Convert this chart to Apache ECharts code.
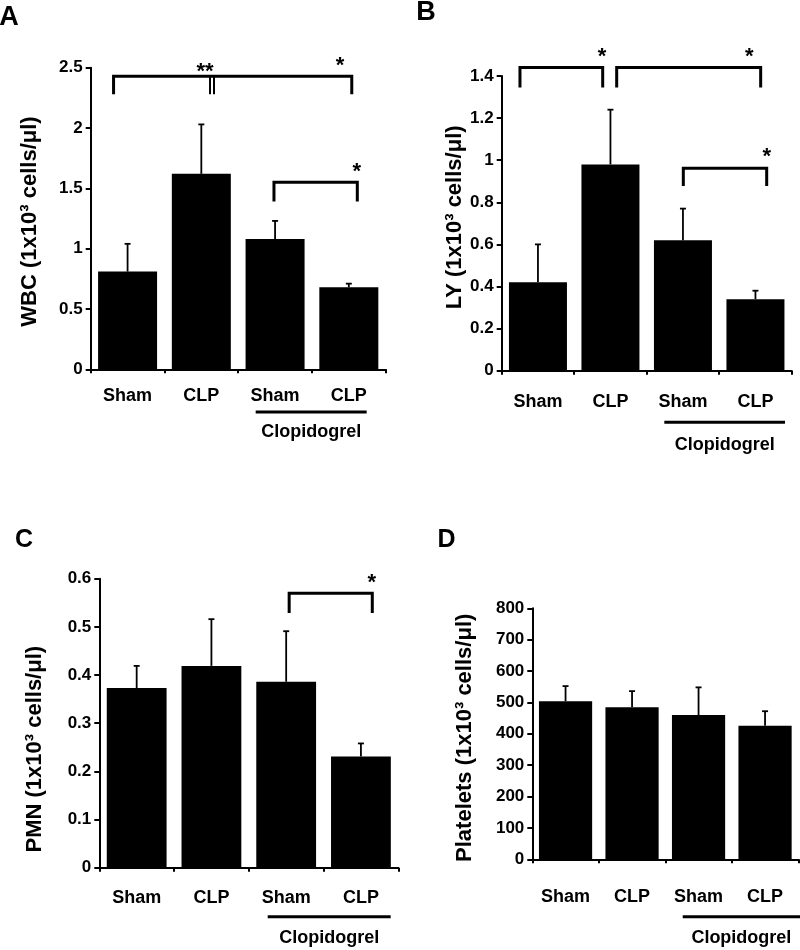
<!DOCTYPE html>
<html>
<head>
<meta charset="utf-8">
<script src="https://cdn.jsdelivr.net/npm/echarts@6/dist/echarts.min.js"></script>
<style>
html,body{margin:0;padding:0;background:#fff;}
#chart{width:800px;height:950px;}
</style>
</head>
<body>
<div id="chart"></div>
<script>
// ---------- data ----------
const categories = ['Sham', 'CLP', 'Sham', 'CLP'];
const groupLabel = 'Clopidogrel';

const wbcMean = [0.81, 1.62, 1.08, 0.68];
const wbcErr  = [0.23, 0.41, 0.15, 0.03];
const lyMean  = [0.42, 0.98, 0.62, 0.34];
const lyErr   = [0.18, 0.26, 0.15, 0.04];
const pmnMean = [0.373, 0.419, 0.386, 0.231];
const pmnErr  = [0.046, 0.097, 0.105, 0.027];
const pltMean = [504, 485, 460, 426];
const pltErr  = [48, 51, 88, 46];

const yTitles = ['WBC (1x10³ cells/μl)', 'LY (1x10³ cells/μl)', 'PMN (1x10³ cells/μl)', 'Platelets (1x10³ cells/μl)'];
const panelLetters = ['A', 'B', 'C', 'D'];
const yMax = [2.5, 1.4, 0.6, 800];
const yStep = [0.5, 0.2, 0.1, 100];

// significance brackets: [xStart, xEnd, yLine, yLegEnd] in data space (x = category index)
const bracketsA = [[-0.19, 3.04, 2.43, 2.28], [1.985, 3.115, 1.55, 1.39]];
const bracketsB = [[-0.248, 0.893, 1.44, 1.345], [1.086, 3.072, 1.44, 1.345], [2.005, 3.155, 0.962, 0.877]];
const bracketsC = [[2.04, 3.152, 0.570, 0.529]];
const bracketsD = [];
// vertical connector lines: [x, yTop, yBottom]
const vlinesA = [[1.118, 2.43, 2.28], [1.172, 2.43, 2.28]];
// star labels
const starTextA = ['**', '*', '*'];
const starPosA = [[1.05, 2.51], [2.88, 2.56], [3.107, 1.678]];
const starTextB = ['*', '*', '*'];
const starPosB = [[0.883, 1.515], [2.915, 1.515], [3.155, 1.04]];
const starTextC = ['*'];
const starPosC = [[3.144, 0.601]];
// clopidogrel group extent in category units
const groupSpan = [[1.737, 3.242], [1.743, 3.408], [1.753, 3.398], [1.762, 3.526]];

// ---------- layout ----------
const FONT = '"Liberation Sans", Arial, sans-serif';
const grids = [
  {left: 90.7, top: 67.7, width: 295, height: 301.6},
  {left: 501.7, top: 76, width: 290, height: 294.7},
  {left: 99.3, top: 578.7, width: 299, height: 289},
  {left: 532.3, top: 608.3, width: 266, height: 251}
];
const labelMargin = [18, 22, 21, 29];
const nameGap = [50, 35, 53, 56];
const namePad = [[0, 6, 0, 0], [0, 0, 0, 12], [0, 52, 0, 0], [0, 8, 0, 0]];
const underlineOff = [42.7, 51.6, 49, 57.4];
const groupTextOff = [63, 74.3, 70.6, 79];
const letterPos = [[9, 18, 27], [426, 12.5, 27], [24, 540, 25], [446.5, 540, 25]];

const means = [wbcMean, lyMean, pmnMean, pltMean];
const errs = [wbcErr, lyErr, pmnErr, pltErr];
const brackets = [bracketsA, bracketsB, bracketsC, bracketsD];
const vlines = [vlinesA, [], [], []];
const starTexts = [starTextA, starTextB, starTextC, []];
const starPos = [starPosA, starPosB, starPosC, []];

const option = {
  animation: false,
  backgroundColor: '#fff',
  grid: grids.map(g => Object.assign({}, g)),
  xAxis: [],
  yAxis: [],
  series: [],
  graphic: letterPos.map((p, i) => ({
    type: 'text', x: p[0], y: p[1],
    style: {text: panelLetters[i], font: 'bold ' + p[2] + 'px ' + FONT, fill: '#000', align: 'center', verticalAlign: 'middle'}
  }))
};

for (let k = 0; k < 4; k++) {
  option.xAxis.push({
    type: 'category', gridIndex: k, data: categories, boundaryGap: true,
    axisLine: {show: true, onZero: false, lineStyle: {color: '#000', width: 2}},
    axisTick: {show: true, length: 4, interval: 0, lineStyle: {color: '#000', width: 2}},
    axisLabel: {interval: 0, margin: labelMargin[k], color: '#000', fontSize: 18, fontWeight: 'bold', fontFamily: FONT},
    splitLine: {show: false}
  });
  option.xAxis.push({
    type: 'value', gridIndex: k, min: -0.5, max: 3.5, show: false,
    axisLine: {onZero: false}
  });
  option.yAxis.push({
    type: 'value', gridIndex: k, min: 0, max: yMax[k], interval: yStep[k],
    name: yTitles[k], nameLocation: 'middle', nameGap: nameGap[k],
    nameTextStyle: {color: '#000', fontSize: 22, fontWeight: 'bold', fontFamily: FONT, padding: namePad[k]},
    axisLine: {show: true, onZero: false, lineStyle: {color: '#000', width: 2}},
    axisTick: {show: true, length: 5, lineStyle: {color: '#000', width: 2}},
    axisLabel: {margin: 8, color: '#000', fontSize: 17, fontWeight: 'bold', fontFamily: FONT},
    splitLine: {show: false}
  });

  const xi = 2 * k, vxi = 2 * k + 1;
  option.series.push({
    type: 'bar', xAxisIndex: xi, yAxisIndex: k, data: means[k],
    barCategoryGap: '20%', itemStyle: {color: '#000'}, z: 2
  });
  // error bars (upper only)
  option.series.push({
    type: 'custom', xAxisIndex: vxi, yAxisIndex: k, clip: false, z: 3,
    data: means[k].map((m, i) => [i, m, errs[k][i]]),
    encode: {x: 0, y: 1},
    renderItem: function (params, api) {
      const x = api.value(0), m = api.value(1), e = api.value(2);
      const b = api.coord([x, m]), t = api.coord([x, m + e]);
      return {type: 'group', children: [
        {type: 'line', shape: {x1: b[0], y1: b[1], x2: t[0], y2: t[1]}, style: {stroke: '#000', lineWidth: 1.8}},
        {type: 'line', shape: {x1: t[0] - 3, y1: t[1], x2: t[0] + 3, y2: t[1]}, style: {stroke: '#000', lineWidth: 1.8}}
      ]};
    }
  });
  // brackets
  if (brackets[k].length) {
    option.series.push({
      type: 'custom', xAxisIndex: vxi, yAxisIndex: k, clip: false, z: 4,
      data: brackets[k], encode: {x: [0, 1], y: [2, 3]},
      renderItem: function (params, api) {
        const a = api.coord([api.value(0), api.value(3)]);
        const b = api.coord([api.value(0), api.value(2)]);
        const c = api.coord([api.value(1), api.value(2)]);
        const d = api.coord([api.value(1), api.value(3)]);
        return {type: 'polyline', shape: {points: [a, b, c, d]}, style: {stroke: '#000', lineWidth: 3, fill: null, lineJoin: 'miter'}};
      }
    });
  }
  if (vlines[k].length) {
    option.series.push({
      type: 'custom', xAxisIndex: vxi, yAxisIndex: k, clip: false, z: 4,
      data: vlines[k], encode: {x: 0, y: [1, 2]},
      renderItem: function (params, api) {
        const a = api.coord([api.value(0), api.value(1)]);
        const b = api.coord([api.value(0), api.value(2)]);
        return {type: 'line', shape: {x1: a[0], y1: a[1], x2: b[0], y2: b[1]}, style: {stroke: '#000', lineWidth: 2}};
      }
    });
  }
  if (starPos[k].length) {
    const texts = starTexts[k];
    option.series.push({
      type: 'custom', xAxisIndex: vxi, yAxisIndex: k, clip: false, z: 5,
      data: starPos[k], encode: {x: 0, y: 1},
      renderItem: function (params, api) {
        const p = api.coord([api.value(0), api.value(1)]);
        return {type: 'text', x: p[0], y: p[1] + 5,
          style: {text: texts[params.dataIndex], font: 'bold 22px ' + FONT, fill: '#000', align: 'center', verticalAlign: 'middle'}};
      }
    });
  }
  // clopidogrel group line + label
  const uOff = underlineOff[k], tOff = groupTextOff[k];
  option.series.push({
    type: 'custom', xAxisIndex: vxi, yAxisIndex: k, clip: false, z: 5,
    data: [groupSpan[k]], encode: {x: [0, 1]},
    renderItem: function (params, api) {
      const a = api.coord([api.value(0), 0]);
      const b = api.coord([api.value(1), 0]);
      return {type: 'group', children: [
        {type: 'line', shape: {x1: a[0], y1: a[1] + uOff, x2: b[0], y2: b[1] + uOff}, style: {stroke: '#000', lineWidth: 3}},
        {type: 'text', x: (a[0] + b[0]) / 2, y: a[1] + tOff,
          style: {text: groupLabel, font: 'bold 18px ' + FONT, fill: '#000', align: 'center', verticalAlign: 'middle'}}
      ]};
    }
  });
}

const chart = echarts.init(document.getElementById('chart'), null, {renderer: 'canvas'});
chart.setOption(option);
</script>
</body>
</html>
